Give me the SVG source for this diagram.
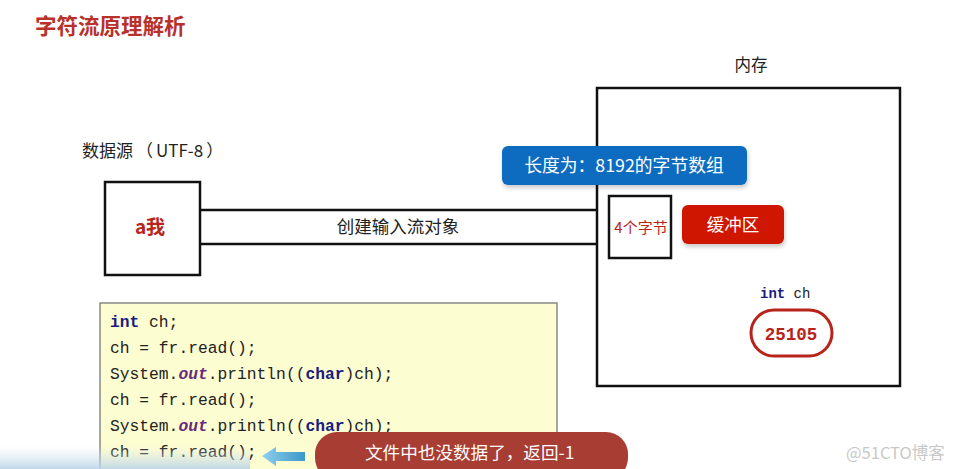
<svg xmlns="http://www.w3.org/2000/svg" width="955" height="469" viewBox="0 0 955 469">
<defs>
<style>
.cjk{font-family:"Noto Sans CJK SC","Noto Sans",sans-serif}
.mono{font-family:"Liberation Mono","DejaVu Sans Mono",monospace}
.box{fill:#fff;stroke:#111;stroke-width:2.5}
.ln{stroke:#111;stroke-width:2.5}
.code{font-size:16.3px;fill:#222}
.kw{fill:#1a1a80;font-weight:bold}
.it{fill:#6a2a7a;font-style:italic;font-weight:bold}
</style>
<linearGradient id="band" x1="0" y1="0" x2="0" y2="1">
<stop offset="0" stop-color="#dbe9f3" stop-opacity="0"/>
<stop offset="1" stop-color="#b9d3e6" stop-opacity="0.9"/>
</linearGradient>
<linearGradient id="arr" x1="0" y1="0" x2="1" y2="0">
<stop offset="0" stop-color="#8fd0ee"/>
<stop offset="1" stop-color="#3a98c8"/>
</linearGradient>
<filter id="sh" x="-10%" y="-10%" width="120%" height="140%"><feDropShadow dx="1" dy="3" stdDeviation="2" flood-color="#000" flood-opacity="0.2"/></filter>
</defs>
<rect width="955" height="469" fill="#fff"/>
<text class="cjk" x="35" y="34" font-size="21.5" font-weight="bold" fill="#b8312a">字符流原理解析</text>

<g id="connectors">
<line class="ln" x1="200" y1="210" x2="597" y2="210"/>
<line class="ln" x1="200" y1="244" x2="597" y2="244"/>
<text class="cjk" x="398" y="233" font-size="17.5" text-anchor="middle" fill="#222">创建输入流对象</text>
</g>

<g id="source">
<text class="cjk" x="82" y="157" font-size="17" fill="#222">数据源<tspan dx="3">（</tspan><tspan dx="3">UTF-8</tspan><tspan dx="3">）</tspan></text>
<rect class="box" x="105" y="182" width="95" height="93"/>
<text class="cjk" x="150" y="234" font-size="19" font-weight="bold" fill="#b8231a" text-anchor="middle">a我</text>
</g>

<g id="memory">
<text class="cjk" x="751" y="71" font-size="16.5" fill="#222" text-anchor="middle">内存</text>
<rect class="box" x="597" y="88" width="303" height="298" fill="none"/>
</g>

<g id="array">
<rect x="502" y="146" width="245" height="39" rx="6" fill="#0b6cc0" filter="url(#sh)"/>
<text class="cjk" x="624" y="172" font-size="17.8" fill="#fff" text-anchor="middle">长度为：8192的字节数组</text>
</g>

<g id="bytes4">
<rect class="box" x="609" y="196" width="62" height="62"/>
<text class="cjk" x="641" y="233" font-size="15" fill="#b8231a" text-anchor="middle">4个字节</text>
</g>

<g id="buffer">
<rect x="682" y="205" width="102" height="39" rx="6" fill="#cf1500" filter="url(#sh)"/>
<text class="cjk" x="733" y="231" font-size="17.5" fill="#fff" text-anchor="middle">缓冲区</text>
</g>

<g id="ch">
<text class="mono" x="760" y="298" font-size="14"><tspan class="kw">int</tspan><tspan fill="#222"> ch</tspan></text>
<rect x="751" y="310" width="81" height="46" rx="23" fill="#fff" stroke="#b8231a" stroke-width="3"/>
<text class="mono" x="791" y="340" font-size="17.5" font-weight="bold" fill="#b8231a" text-anchor="middle">25105</text>
</g>

<g id="code">
<rect x="100" y="303" width="457" height="175" fill="#fdfdd2" stroke="#888" stroke-width="1.5"/>
<text class="mono code" x="110" y="327"><tspan class="kw">int</tspan> ch;</text>
<text class="mono code" x="110" y="353">ch = fr.read();</text>
<text class="mono code" x="110" y="379">System.<tspan class="it">out</tspan>.println((<tspan class="kw">char</tspan>)ch);</text>
<text class="mono code" x="110" y="405">ch = fr.read();</text>
<text class="mono code" x="110" y="431">System.<tspan class="it">out</tspan>.println((<tspan class="kw">char</tspan>)ch);</text>
<text class="mono code" x="110" y="457">ch = fr.read();</text>
</g>

<rect x="0" y="446" width="250" height="23" fill="url(#band)"/>

<g id="arrow">
<polygon points="262,456 276,447 276,452 305,452 305,461 276,461 276,466" fill="url(#arr)"/>
</g>

<g id="note">
<rect x="315" y="432" width="313" height="48" rx="22" fill="#a83d33"/>
<text class="cjk" x="365" y="459" font-size="17.6" fill="#fff">文件中也没数据了，返回-1</text>
</g>

<text class="cjk" x="846" y="459" font-size="16.5" fill="#c8c8c8">@51CTO博客</text>
</svg>
